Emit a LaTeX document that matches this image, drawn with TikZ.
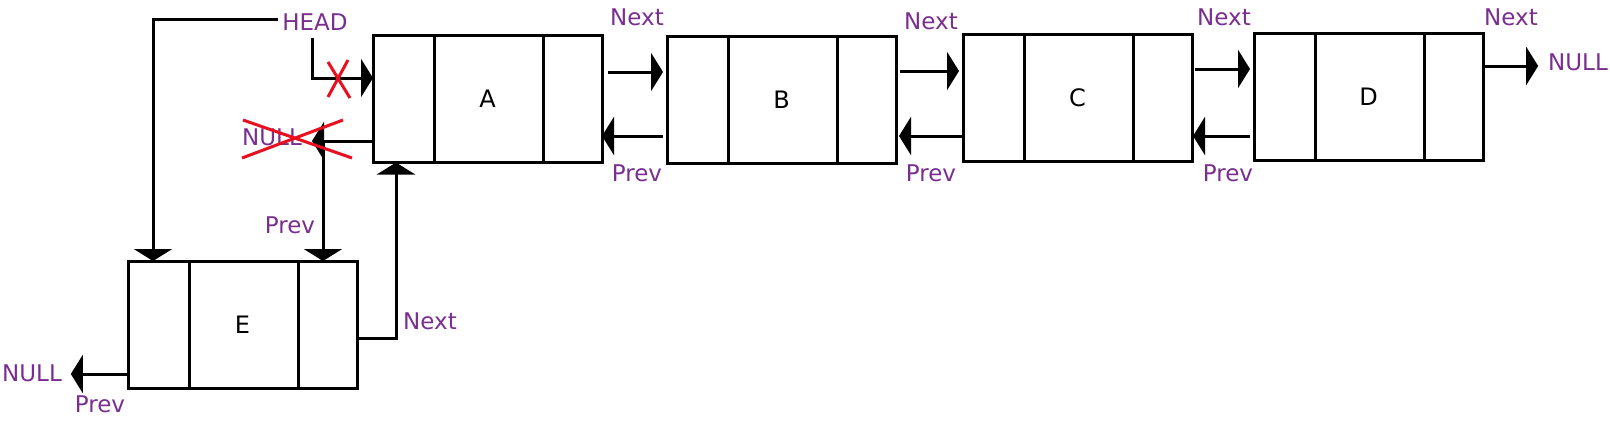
\documentclass[tikz,border=0pt]{standalone}
\usepackage{fontspec}
\setmainfont{DejaVu Sans}
\usetikzlibrary{arrows.meta}
\definecolor{lblpurple}{HTML}{7A2E90}
\definecolor{crossred}{HTML}{E8101E}
\begin{document}
\begin{tikzpicture}[x=1pt,y=-1pt,
  every node/.style={inner sep=0pt,outer sep=0pt},
  listbox/.style={draw,line width=3pt,minimum width=229pt,minimum height=127pt,font=\fontsize{24}{24}\selectfont},
  lbl/.style={text=lblpurple,font=\fontsize{23}{23}\selectfont},
  arr/.style={line width=3pt,-{Triangle[length=12pt,width=38pt]}},
  plainline/.style={line width=3pt},
  redx/.style={draw=crossred,line width=3pt}]
\useasboundingbox (0,0) rectangle (1610,426);

% list boxes
\node[listbox] (A) at (487.5,99) {A};
\node[listbox] (B) at (781.5,99.5) {B};
\node[listbox] (C) at (1077.5,98) {C};
\node[listbox] (D) at (1368.5,96.5) {D};
\node[listbox] (E) at (242.5,324.5) {E};
\foreach \n in {A,B,C,D,E} {
  \draw[plainline] ([xshift=61pt]\n.north west) -- ([xshift=61pt]\n.south west);
  \draw[plainline] ([xshift=170pt]\n.north west) -- ([xshift=170pt]\n.south west);
}

% labels
\node[lbl] (head) at (315,22) {HEAD};
\node[lbl] (nx1) at (637,17) {Next};
\node[lbl] (nx2) at (931,21) {Next};
\node[lbl] (nx3) at (1224,17) {Next};
\node[lbl] (nx4) at (1511,17) {Next};
\node[lbl] (pv1) at (637,173) {Prev};
\node[lbl] (pv2) at (931,173) {Prev};
\node[lbl] (pv3) at (1228,173) {Prev};
\node[lbl] (pvE) at (290,225) {Prev};
\node[lbl] (nxE) at (430,321) {Next};
\node[lbl] (nullE) at (32,373) {NULL};
\node[lbl] (pvE2) at (100,404) {Prev};
\node[lbl] (nullD) at (1578,62) {NULL};
\node[lbl] (nullA) at (272,137) {NULL};

% connectors between boxes
\draw[arr,shorten <=6pt,shorten >=4pt] (A.east |- 0,72) -- (B.west |- 0,72);
\draw[arr,shorten <=4pt] (B.west |- 0,136) -- (A.east |- 0,136);
\draw[arr,shorten <=4pt,shorten >=4pt] (B.east |- 0,71) -- (C.west |- 0,71);
\draw[arr,shorten <=1pt,shorten >=3pt] (C.west |- 0,136) -- (B.east |- 0,136);
\draw[arr,shorten <=3pt,shorten >=4pt] (C.east |- 0,69) -- (D.west |- 0,69);
\draw[arr,shorten <=4pt,shorten >=1pt] (D.west |- 0,136) -- (C.east |- 0,136);
\draw[arr,shorten >=10pt] (D.east |- 0,66) -- (nullD.west |- 0,66);

% head pointers
\draw[arr] ([xshift=-4pt,yshift=3pt]head.west) -| (E.north -| 153,0);
\draw[arr] ([xshift=-3pt,yshift=-8pt]head.south) |- (A.west |- 0,78);
\draw[redx] (328,62) -- (350,98);
\draw[redx] (348,60) -- (328,97);

% A prev (old NULL, crossed) and new link down to E
\coordinate (nl) at (312,141);
\draw[arr] (A.west |- 0,141) -- (nl);
\coordinate (pv) at (323,140);
\draw[arr] (pv) -- (pv |- E.north);
\draw[redx] (243,120) -- (352,158);
\draw[redx] (242,158) -- (343,120);

% E links
\draw[arr] (E.east |- 0,338) -| (A.south -| 396,0);
\draw[arr,shorten >=9pt] (E.west |- 0,374) -- (nullE.east |- 0,374);
\end{tikzpicture}
\end{document}
